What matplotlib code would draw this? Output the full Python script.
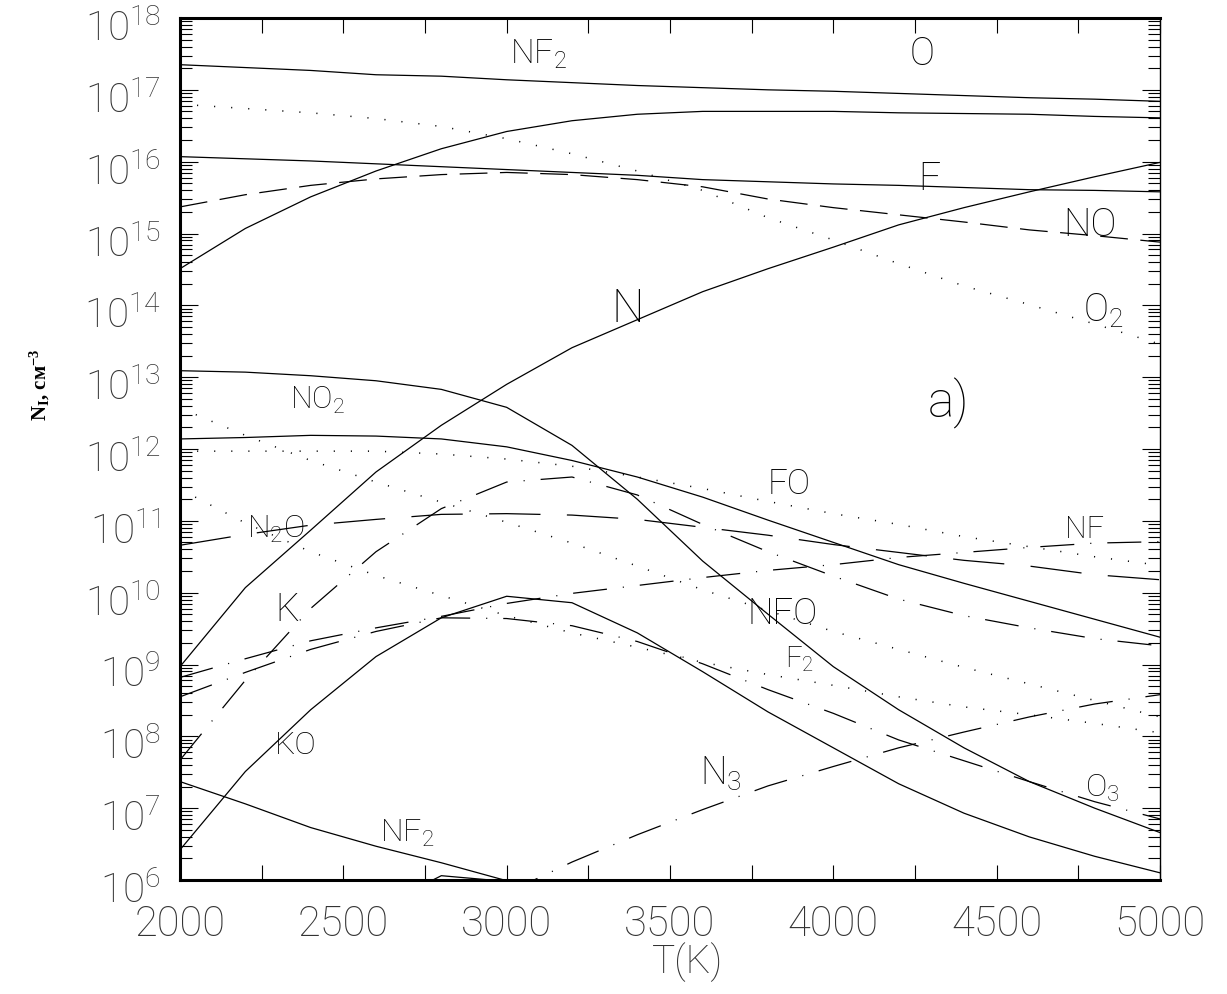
import matplotlib
matplotlib.use("Agg")
import matplotlib.pyplot as plt
import matplotlib.ticker as mticker
import matplotlib.transforms as mtransforms
import numpy as np

plt.rcParams['mathtext.default'] = 'regular'
plt.rcParams['lines.scale_dashes'] = False

# temperature grid, K
T = [2000, 2200, 2400, 2600, 2800, 3000, 3200, 3400,
     3600, 3800, 4000, 4200, 4400, 4600, 4800, 5000]

# log10 of number densities (cm^-3)
lg_nf2_top = [17.35, 17.31, 17.27, 17.21, 17.19, 17.14, 17.10, 17.06,
              17.03, 17.00, 16.98, 16.95, 16.92, 16.89, 16.87, 16.84]
lg_o = [14.51, 15.07, 15.51, 15.87, 16.18, 16.42, 16.57, 16.66,
        16.70, 16.70, 16.70, 16.68, 16.67, 16.66, 16.63, 16.61]
lg_f = [16.07, 16.04, 16.01, 15.97, 15.93, 15.89, 15.85, 15.81,
        15.75, 15.72, 15.69, 15.67, 15.64, 15.61, 15.60, 15.58]
lg_no = [15.37, 15.54, 15.67, 15.76, 15.82, 15.85, 15.82, 15.75,
         15.65, 15.48, 15.36, 15.26, 15.16, 15.05, 14.97, 14.88]
lg_n = [8.97, 10.07, 10.87, 11.68, 12.33, 12.90, 13.41, 13.80,
        14.19, 14.51, 14.81, 15.12, 15.36, 15.58, 15.79, 15.99]
lg_o2 = [16.80, 16.74, 16.68, 16.60, 16.49, 16.32, 16.11, 15.87,
         15.60, 15.22, 14.91, 14.58, 14.27, 14.01, 13.74, 13.46]
lg_no2 = [13.09, 13.07, 13.02, 12.95, 12.83, 12.58, 12.05, 11.30,
          10.44, 9.70, 8.97, 8.37, 7.84, 7.37, 7.00, 6.66]
lg_s6 = [12.14, 12.16, 12.19, 12.18, 12.14, 12.03, 11.84, 11.61,
         11.33, 11.01, 10.70, 10.39, 10.13, 9.88, 9.63, 9.38]
lg_fo = [11.97, 11.97, 11.97, 11.97, 11.93, 11.86, 11.76, 11.61,
         11.45, 11.27, 11.10, 10.95, 10.78, 10.64, 10.50, 10.38]
lg_nfo = [12.57, 12.19, 11.84, 11.54, 11.26, 10.98, 10.69, 10.37,
          10.04, 9.75, 9.46, 9.21, 8.96, 8.73, 8.50, 8.27]
lg_f2 = [11.44, 10.97, 10.57, 10.24, 9.96, 9.68, 9.44, 9.24,
         9.03, 8.86, 8.71, 8.55, 8.41, 8.30, 8.18, 8.05]
lg_n2o = [10.66, 10.81, 10.94, 11.02, 11.09, 11.10, 11.08, 11.02,
          10.91, 10.80, 10.67, 10.56, 10.45, 10.37, 10.25, 10.18]
lg_k = [7.67, 8.78, 9.78, 10.57, 11.17, 11.54, 11.61, 11.36,
        10.95, 10.57, 10.23, 9.91, 9.68, 9.51, 9.36, 9.26]
lg_nf = [8.82, 9.08, 9.33, 9.51, 9.67, 9.85, 9.99, 10.10,
         10.21, 10.31, 10.39, 10.49, 10.56, 10.63, 10.69, 10.71]
lg_o3 = [8.55, 8.89, 9.21, 9.46, 9.65, 9.64, 9.54, 9.32,
         9.01, 8.65, 8.32, 7.95, 7.66, 7.37, 7.09, 6.85]
lg_ko = [6.42, 7.51, 8.37, 9.11, 9.65, 9.95, 9.86, 9.44,
         8.90, 8.34, 7.84, 7.34, 6.93, 6.60, 6.33, 6.10]
nan = np.nan
lg_n3 = [nan, nan, nan, nan, nan, 5.82, 6.25, 6.63,
         6.98, 7.31, 7.58, 7.84, 8.06, 8.27, 8.45, 8.58]
lg_nf2_low = [7.37, 7.06, 6.73, 6.47, 6.24, 5.99, 5.75, nan,
              nan, nan, nan, nan, nan, nan, nan, nan]
lg_bump = [nan, nan, nan, 5.60, 6.06, 5.98, nan, nan,
           nan, nan, nan, nan, nan, nan, nan, nan]

# curve labels: text, T, log10 N, font size
labels = [("NF$_2$", 3010, 17.37, 24), ("O", 4235, 17.35, 27),
          ("F", 4259, 15.60, 28), ("NO", 4703, 14.97, 28),
          ("O$_2$", 4764, 13.77, 27), ("N", 3322, 13.77, 33),
          ("a)", 4290, 12.44, 36), ("NO$_2$", 2337, 12.56, 22),
          ("FO", 3800, 11.38, 25), ("NF", 4709, 10.76, 22),
          ("N$_2$O", 2205, 10.76, 23), ("K", 2291, 9.60, 27),
          ("NFO", 3736, 9.56, 26), ("F$_2$", 3852, 8.96, 21),
          ("KO", 2291, 7.76, 23), ("N$_3$", 3592, 7.32, 27),
          ("O$_3$", 4770, 7.16, 23), ("NF$_2$", 2612, 6.53, 23)]

solid = dict(color='black', lw=0.9, ls='-')
dot = dict(color='black', lw=1.1, ls=(0, (0.8, 11.5)))
dash = dict(color='black', lw=0.9, ls=(0, (20, 9)))
ldash = dict(color='black', lw=0.9, ls=(0, (37, 19)))
dashdot = dict(color='black', lw=0.9, ls=(0, (24.5, 11.5, 0.8, 11.5)))

curves = [(lg_nf2_top, solid), (lg_o, solid), (lg_f, solid), (lg_n, solid),
          (lg_no2, solid), (lg_s6, solid), (lg_ko, solid),
          (lg_nf2_low, solid), (lg_bump, solid),
          (lg_no, dash), (lg_n2o, ldash),
          (lg_k, dashdot), (lg_nf, dashdot), (lg_o3, dashdot), (lg_n3, dashdot),
          (lg_o2, dot), (lg_fo, dot), (lg_nfo, dot), (lg_f2, dot)]

thin = ['Roboto', 'DejaVu Sans']

fig = plt.figure(figsize=(12.27, 9.94), dpi=100)
ax = fig.add_axes([180/1227, 1-880/994, 980/1227, 862/994])

for lg, style in curves:
    ax.plot(T, 10.0**np.array(lg), **style)

ax.set_yscale('log')
ax.set_xlim(2000, 5000)
ax.set_ylim(1e6, 1e18)

ax.xaxis.set_major_locator(mticker.MultipleLocator(500))
ax.xaxis.set_minor_locator(mticker.MultipleLocator(250))
ax.yaxis.set_major_locator(mticker.LogLocator(base=10, numticks=30))
ax.yaxis.set_minor_locator(mticker.LogLocator(base=10, subs=np.arange(2, 10), numticks=200))
ax.yaxis.set_minor_formatter(mticker.NullFormatter())
ax.yaxis.set_major_formatter(mticker.FuncFormatter(
    lambda v, p: '10$^{%d}$' % int(round(np.log10(v)))))

ax.tick_params(axis='x', which='both', direction='in', top=True, length=10.8,
               width=0.8, pad=17, labelsize=30, labelcolor='#333')
ax.tick_params(axis='y', which='major', direction='in', right=True, length=13,
               width=0.8, pad=14, labelsize=29, labelcolor='#333')
ax.tick_params(axis='y', which='minor', direction='in', right=True, length=8.6, width=0.8)
plt.setp(ax.get_xticklabels(), family=thin, fontweight='light')
plt.setp(ax.get_yticklabels(), family=thin, fontweight='light')

for s in ['top', 'left', 'bottom']:
    ax.spines[s].set_linewidth(2.2)
ax.spines['right'].set_linewidth(1.0)

for txt, t, lg, size in labels:
    ax.text(t, 10.0**lg, txt, fontsize=size, ha='left', va='baseline',
            family=thin, fontweight='light', color='black')

ax.set_xlabel('T(K)', fontsize=28, color='#333', family=thin, fontweight='light')
ax.xaxis.set_label_coords(0.518, -0.0715)
fig.text(40/1227, 1-385/994, 'N$_I$, см$^{-3}$', rotation=90, ha='center', va='center',
         fontsize=15, fontweight='bold', family=['Liberation Serif', 'DejaVu Serif'])

# y tick labels sit a little below their ticks in the original
fig.canvas.draw()
shift = mtransforms.ScaledTranslation(0, -5/72, fig.dpi_scale_trans)
for tick in ax.yaxis.get_major_ticks():
    tick.label1.set_transform(tick.label1.get_transform() + shift)

fig.savefig('out.png', dpi=100)
